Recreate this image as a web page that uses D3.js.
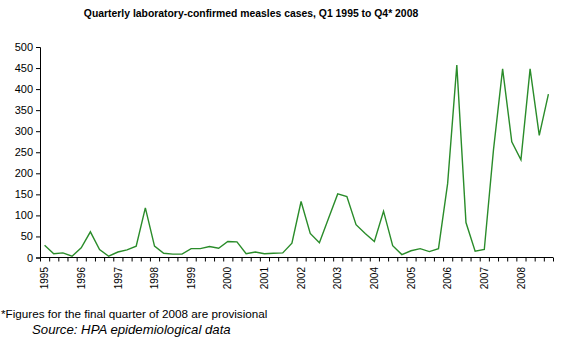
<!DOCTYPE html>
<html>
<head>
<meta charset="utf-8">
<script src="https://cdn.jsdelivr.net/npm/d3@7"></script>
<style>
  body { margin: 0; background: #fff; }
  svg { display: block; font-family: "Liberation Sans", Arial, sans-serif; }
</style>
</head>
<body>
<div id="chart"></div>
<script>
// quarterly cases, Q1 1995 .. Q4 2008
var years = ["1995","1996","1997","1998","1999","2000","2001","2002","2003","2004","2005","2006","2007","2008"];
var cases = [
  29, 9, 11, 3,     // 1995
  23, 61, 19, 3,    // 1996
  13, 18, 27, 118,  // 1997
  27, 10, 8, 8,     // 1998
  21, 21, 26, 22,   // 1999
  38, 37, 9, 13,    // 2000
  9, 10, 11, 34,    // 2001
  133, 57, 35, 93,  // 2002
  151, 145, 78, 57, // 2003
  38, 110, 28, 7,   // 2004
  16, 21, 14, 21,   // 2005
  176, 457, 83, 15, // 2006
  19, 255, 448, 275,// 2007
  232, 448, 290, 388 // 2008
];
var yTicks = [0, 50, 100, 150, 200, 250, 300, 350, 400, 450, 500];

var width = 588, height = 342;

var svg = d3.select("#chart").append("svg")
    .attr("width", width)
    .attr("height", height);

// scales - x in quarter units, points sit in the middle of each quarter
var x = d3.scaleLinear()
    .domain([0, cases.length])
    .range([40, 553]);
var y = d3.scaleLinear()
    .domain([0, 500])
    .range([257.5, 47]);

//title
svg.append("text")
    .attr("x", 251)
    .attr("y", 17)
    .attr("text-anchor", "middle")
    .style("font-weight", "bold")
    .style("font-size", "10.4px")
    .text("Quarterly laboratory-confirmed measles cases, Q1 1995 to Q4* 2008");

// y axis
var yAxis = svg.append("g")
    .attr("transform", "translate(40,0)")
    .call(d3.axisLeft(y).tickValues(yTicks).tickSize(4).tickPadding(3));
yAxis.selectAll("text").style("font-size", "11px").style("fill", "#000")
    .style("font-family", "Liberation Sans, Arial, sans-serif");
yAxis.selectAll("line, path").style("stroke", "#000");

// x axis: ticks on every quarter boundary
var xAxis = svg.append("g")
    .attr("transform", "translate(0," + y(0) + ")")
    .call(d3.axisBottom(x).tickValues(d3.range(cases.length + 1))
      .tickSize(4).tickFormat(""));
xAxis.select("path.domain").attr("d", "M40,0H553");
xAxis.selectAll("line, path").style("stroke", "#000");

// year labels, rotated
svg.append("g").selectAll("text")
    .data(years)
    .enter().append("text")
    .attr("transform", function(d, i){
      return "translate(" + (x(i * 4 + 0.5) + 3.7) + ",267) rotate(-90)";
    })
    .attr("text-anchor", "end")
    .style("font-size", "10px")
    .text(function(d){ return d; });

// line
var line = d3.line()
    .x(function(d, i){ return x(i + 0.5); })
    .y(function(d){ return y(d); });

svg.append("path")
    .datum(cases)
    .attr("d", line)
    .attr("fill", "none")
    .attr("stroke", "#2a8c2a")
    .attr("stroke-width", 1.4)
    .attr("stroke-linejoin", "miter");

// notes
svg.append("text")
    .attr("x", 1)
    .attr("y", 318)
    .style("font-size", "11.7px")
    .text("*Figures for the final quarter of 2008 are provisional");
svg.append("text")
    .attr("x", 32)
    .attr("y", 334)
    .style("font-size", "13.2px")
    .style("font-style", "italic")
    .text("Source: HPA epidemiological data");
</script>
</body>
</html>
